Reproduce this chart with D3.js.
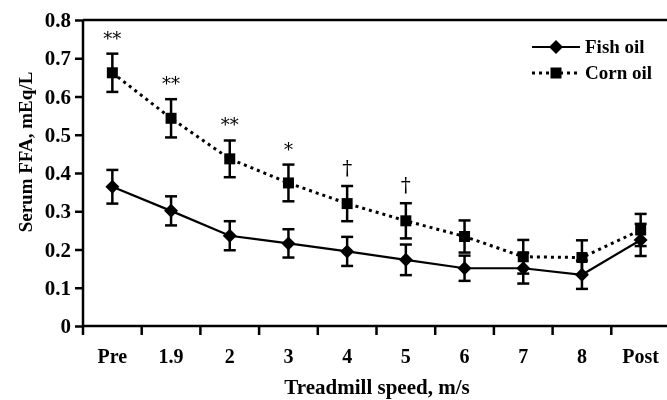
<!DOCTYPE html>
<html>
<head>
<meta charset="utf-8">
<script src="https://cdn.jsdelivr.net/npm/d3@7"></script>
<style>
  body { margin: 0; background: #fff; }
  svg { display: block; filter: grayscale(1); }
  svg text { font-family: "Times New Roman", "Liberation Serif", Times, "DejaVu Serif", serif; font-weight: bold; fill: #000; }
  svg text.mark { font-family: "DejaVu Serif", "Liberation Serif", serif; font-weight: normal; }
</style>
</head>
<body>
<svg id="chart" width="667" height="400"></svg>
<script>
// speeds on the x axis
const categories = ["Pre", "1.9", "2", "3", "4", "5", "6", "7", "8", "Post"];

// serum FFA means and SE (mEq/L)
const fishOil = [0.364, 0.301, 0.236, 0.216, 0.195, 0.173, 0.151, 0.151, 0.134, 0.225];
const fishErr = [0.044, 0.038, 0.038, 0.037, 0.038, 0.040, 0.033, 0.040, 0.037, 0.042];
const cornOil = [0.662, 0.543, 0.437, 0.374, 0.320, 0.275, 0.234, 0.181, 0.179, 0.251];
const cornErr = [0.050, 0.050, 0.048, 0.048, 0.046, 0.046, 0.042, 0.044, 0.045, 0.042];

// significance marks above the corn oil bars
const marks = ["**", "**", "**", "*", "\u2020", "\u2020", "", "", "", ""];

const yTicks = [0, 0.1, 0.2, 0.3, 0.4, 0.5, 0.6, 0.7, 0.8];

const svg = d3.select("#chart");
const plotLeft = 83, plotTop = 20, plotBottom = 326, plotRight = 670;

const x = d3.scaleBand().domain(categories).range([plotLeft, plotRight]).padding(0);
const y = d3.scaleLinear().domain([0, 0.8]).range([plotBottom, plotTop]);
const cx = d => x(d) + x.bandwidth() / 2;

// top frame line
svg.append("line")
    .attr("x1", plotLeft).attr("x2", 667)
    .attr("y1", plotTop).attr("y2", plotTop)
    .attr("stroke", "#000").attr("stroke-width", 2.5);

// y axis
const yAxis = svg.append("g")
    .attr("transform", `translate(${plotLeft},0)`)
    .call(d3.axisLeft(y).tickValues(yTicks).tickSize(8).tickPadding(4)
        .tickFormat(d => d === 0 ? "0" : d3.format(".1f")(d)));
yAxis.attr("font-family", null);
yAxis.select(".domain").attr("stroke-width", 2.5).attr("d", `M0,${plotTop}V${plotBottom + 9}`);
yAxis.selectAll(".tick line").attr("stroke-width", 2.5);
yAxis.selectAll("text").attr("font-size", 21);

// x axis: ticks between categories, labels at centers
const xAxis = svg.append("g")
    .attr("transform", `translate(0,${plotBottom})`)
    .call(d3.axisBottom(x).tickSize(0).tickPadding(23));
xAxis.attr("font-family", null);
xAxis.select(".domain").attr("stroke-width", 2.5).attr("d", `M${plotLeft},0H667`);
xAxis.selectAll("text").attr("font-size", 20);
xAxis.selectAll(".sep")
    .data(categories.slice(1))
    .enter().append("line")
    .attr("class", "sep")
    .attr("x1", d => x(d)).attr("x2", d => x(d))
    .attr("y1", 0).attr("y2", 9)
    .attr("stroke", "#000").attr("stroke-width", 2.5);

// axis titles
svg.append("text")
    .attr("x", 377).attr("y", 394)
    .attr("text-anchor", "middle")
    .attr("font-size", 21)
    .text("Treadmill speed, m/s");

svg.append("text")
    .attr("transform", "translate(32,152) rotate(-90)")
    .attr("text-anchor", "middle")
    .attr("font-size", 19)
    .text("Serum FFA, mEq/L");

// series
const series = [
    { name: "Fish oil", vals: fishOil, err: fishErr, dash: null, shape: "diamond" },
    { name: "Corn oil", vals: cornOil, err: cornErr, dash: "3,4", shape: "square" }
];

const line = d3.line().x((d, i) => cx(categories[i])).y(d => y(d));

function drawMarker(g, shape, px, py) {
    if (shape === "diamond") {
        g.append("path")
            .attr("d", `M${px},${py - 7}L${px + 7},${py}L${px},${py + 7}L${px - 7},${py}Z`)
            .attr("fill", "#000");
    } else {
        g.append("rect")
            .attr("x", px - 5.5).attr("y", py - 5.5)
            .attr("width", 11).attr("height", 11)
            .attr("fill", "#000");
    }
}

series.forEach(s => {
    const g = svg.append("g");
    g.append("path")
        .datum(s.vals)
        .attr("d", line)
        .attr("fill", "none")
        .attr("stroke", "#000")
        .attr("stroke-width", s.dash ? 3 : 2.2)
        .attr("stroke-dasharray", s.dash);

    s.vals.forEach((v, i) => {
        const px = cx(categories[i]);
        const hi = y(v + s.err[i]), lo = y(v - s.err[i]);
        g.append("line").attr("x1", px).attr("x2", px).attr("y1", hi).attr("y2", lo)
            .attr("stroke", "#000").attr("stroke-width", 2.5);
        [hi, lo].forEach(yy => {
            g.append("line").attr("x1", px - 6).attr("x2", px + 6).attr("y1", yy).attr("y2", yy)
                .attr("stroke", "#000").attr("stroke-width", 2.5);
        });
        drawMarker(g, s.shape, px, y(v));
    });
});

// significance marks
svg.selectAll(".mark")
    .data(marks)
    .enter().append("text")
    .attr("class", "mark")
    .attr("x", (d, i) => cx(categories[i]))
    .attr("y", (d, i) => y(cornOil[i] + cornErr[i]) - (d === "\u2020" ? 11 : 9))
    .attr("text-anchor", "middle")
    .attr("font-size", d => d === "\u2020" ? 20 : 18)
    .text(d => d);

// legend
const legend = svg.append("g");
series.forEach((s, i) => {
    const ly = 47 + i * 26;
    legend.append("line")
        .attr("x1", 532).attr("x2", 580)
        .attr("y1", ly).attr("y2", ly)
        .attr("stroke", "#000")
        .attr("stroke-width", s.dash ? 3 : 2.2)
        .attr("stroke-dasharray", s.dash);
    drawMarker(legend, s.shape, 556, ly);
    legend.append("text")
        .attr("x", 585).attr("y", ly + 6)
        .attr("font-size", 19)
        .text(s.name);
});
</script>
</body>
</html>
